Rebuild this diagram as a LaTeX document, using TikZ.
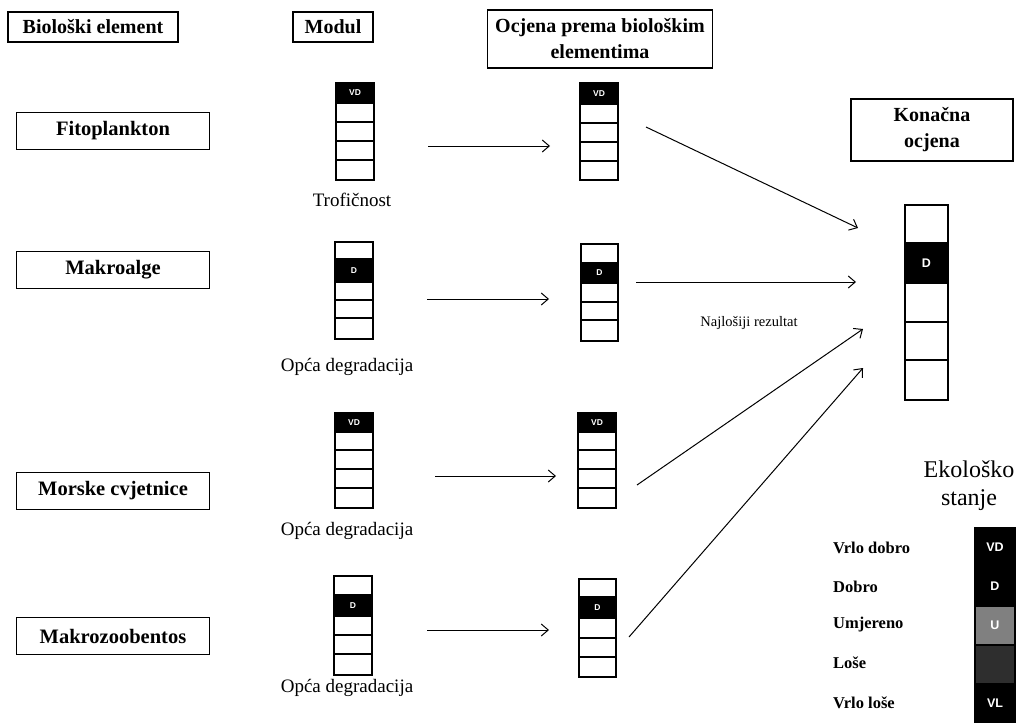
\documentclass[tikz,border=0pt]{standalone}
\usepackage{fontspec}
\setmainfont{Liberation Serif}
\newfontfamily\cellfont{Liberation Sans}
\usetikzlibrary{arrows.meta}
\newcommand\mkcell[7]{\node[cellbox,#6,minimum width={(#4-#2)*1pt},minimum height={(#5-#3)*1pt}] (#1) at ({(#2+#4)/2},{(#3+#5)/2}) {#7};}
\begin{document}
\begin{tikzpicture}[x=1pt,y=-1pt,
 hdr/.style={draw, line width=1.2pt, font=\fontsize{20}{26}\selectfont\bfseries, align=center, inner sep=0pt},
 elem/.style={draw, line width=1.2pt, font=\fontsize{20.5}{24}\selectfont\bfseries, inner sep=0pt, minimum width=193pt, minimum height=37pt},
 cellbox/.style={draw, line width=1.5pt, inner sep=0pt, fill=white, font=\cellfont\bfseries\fontsize{8.5}{8.5}\selectfont},
 dark/.style={fill=black, text=white},
 big/.style={font=\cellfont\bfseries\fontsize{12.5}{12.5}\selectfont},
 lbl/.style={font=\fontsize{19}{22}\selectfont, inner sep=0pt},
 leg/.style={font=\fontsize{16.5}{18}\selectfont\bfseries, inner sep=0pt, anchor=west},
 arr/.style={line width=1pt, -{Straight Barb[length=7pt,width=12pt]}},
]
\useasboundingbox[fill=white] (0,0) rectangle (1018,723);

% headers
\node[hdr, minimum width=170pt, minimum height=30pt] (hbio) at (93,27) {Biološki element};
\node[hdr, minimum width=80pt, minimum height=30pt] (hmod) at (333,27) {Modul};
\node[hdr, minimum width=225pt, minimum height=58pt] (hocj) at (600,39) {Ocjena prema biološkim\\elementima};
\node[hdr, minimum width=162pt, minimum height=62pt] (hkon) at (932,130) {Konačna\\ocjena};

% biological elements
\node[elem] (e1) at (113,131) {Fitoplankton};
\node[elem] (e2) at (113,270) {Makroalge};
\node[elem] (e3) at (113,491) {Morske cvjetnice};
\node[elem] (e4) at (113,636) {Makrozoobentos};

% module stacks
\mkcell{m1a}{336}{83}{374}{103}{dark}{VD}
\mkcell{m1b}{336}{103}{374}{122}{}{}
\mkcell{m1c}{336}{122}{374}{141}{}{}
\mkcell{m1d}{336}{141}{374}{160}{}{}
\mkcell{m1e}{336}{160}{374}{180}{}{}

\mkcell{m2a}{335}{242}{373}{259}{}{}
\mkcell{m2b}{335}{259}{373}{282}{dark}{D}
\mkcell{m2c}{335}{282}{373}{300}{}{}
\mkcell{m2d}{335}{300}{373}{318}{}{}
\mkcell{m2e}{335}{318}{373}{339}{}{}

\mkcell{m3a}{335}{413}{373}{432}{dark}{VD}
\mkcell{m3b}{335}{432}{373}{450}{}{}
\mkcell{m3c}{335}{450}{373}{469}{}{}
\mkcell{m3d}{335}{469}{373}{488}{}{}
\mkcell{m3e}{335}{488}{373}{508}{}{}

\mkcell{m4a}{334}{576}{372}{595}{}{}
\mkcell{m4b}{334}{595}{372}{616}{dark}{D}
\mkcell{m4c}{334}{616}{372}{635}{}{}
\mkcell{m4d}{334}{635}{372}{654}{}{}
\mkcell{m4e}{334}{654}{372}{675}{}{}

% module labels
\node[lbl] (l1) at (352,200) {Trofičnost};
\node[lbl] (l2) at (347,367) {Opća degradacija};
\node[lbl] (l3) at (347,531) {Opća degradacija};
\node[lbl] (l4) at (347,688) {Opća degradacija};

% element assessment stacks
\mkcell{c1a}{580}{83}{618}{104}{dark}{VD}
\mkcell{c1b}{580}{104}{618}{123}{}{}
\mkcell{c1c}{580}{123}{618}{142}{}{}
\mkcell{c1d}{580}{142}{618}{161}{}{}
\mkcell{c1e}{580}{161}{618}{180}{}{}

\mkcell{c2a}{581}{244}{618}{263}{}{}
\mkcell{c2b}{581}{263}{618}{283}{dark}{D}
\mkcell{c2c}{581}{283}{618}{302}{}{}
\mkcell{c2d}{581}{302}{618}{320}{}{}
\mkcell{c2e}{581}{320}{618}{341}{}{}

\mkcell{c3a}{578}{413}{616}{432}{dark}{VD}
\mkcell{c3b}{578}{432}{616}{450}{}{}
\mkcell{c3c}{578}{450}{616}{469}{}{}
\mkcell{c3d}{578}{469}{616}{488}{}{}
\mkcell{c3e}{578}{488}{616}{508}{}{}

\mkcell{c4a}{579}{579}{616}{597}{}{}
\mkcell{c4b}{579}{597}{616}{618}{dark}{D}
\mkcell{c4c}{579}{618}{616}{638}{}{}
\mkcell{c4d}{579}{638}{616}{657}{}{}
\mkcell{c4e}{579}{657}{616}{677}{}{}

% final stack
\mkcell{fa}{905}{205}{948}{243}{}{}
\mkcell{fb}{905}{243}{948}{283}{dark,big}{D}
\mkcell{fc}{905}{283}{948}{322}{}{}
\mkcell{fd}{905}{322}{948}{360}{}{}
\mkcell{fe}{905}{360}{948}{400}{}{}

% horizontal arrows
\coordinate (h1s) at (428,146); \coordinate (h1e) at (550,146);
\coordinate (h2s) at (427,299); \coordinate (h2e) at (549,299);
\coordinate (h3s) at (435,476); \coordinate (h3e) at (556,476);
\coordinate (h4s) at (427,630); \coordinate (h4e) at (549,630);
\draw[arr] (h1s) -- (h1e);
\draw[arr] (h2s) -- (h2e);
\draw[arr] (h3s) -- (h3e);
\draw[arr] (h4s) -- (h4e);

% diagonal arrows
\coordinate (d1s) at (646,127); \coordinate (d1e) at (858,228);
\coordinate (d2s) at (636,282); \coordinate (d2e) at (856,282);
\coordinate (d3s) at (637,485); \coordinate (d3e) at (863,329);
\coordinate (d4s) at (629,637); \coordinate (d4e) at (863,368);
\draw[arr] (d1s) -- (d1e);
\draw[arr] (d2s) -- (d2e);
\draw[arr] (d3s) -- (d3e);
\draw[arr] (d4s) -- (d4e);

\node[font=\fontsize{14.5}{16}\selectfont, inner sep=0pt] (naj) at (749,323) {Najlošiji rezultat};

% legend
\node[font=\fontsize{24}{28}\selectfont, align=center, inner sep=0pt] (eko) at (969,486) {Ekološko\\stanje};
\mkcell{g1}{975}{528}{1015}{567}{dark,big}{VD}
\mkcell{g2}{975}{567}{1015}{606}{dark,big}{D}
\mkcell{g3}{975}{606}{1015}{645}{fill=black!50,text=white,big}{U}
\mkcell{g4}{975}{645}{1015}{684}{fill=black!82,big}{}
\mkcell{g5}{975}{684}{1015}{723}{dark,big}{VL}
\node[leg] (t1) at (833,548) {Vrlo dobro};
\node[leg] (t2) at (833,587) {Dobro};
\node[leg] (t3) at (833,625) {Umjereno};
\node[leg] (t4) at (833,663) {Loše};
\node[leg] (t5) at (833,703) {Vrlo loše};
\end{tikzpicture}
\end{document}
